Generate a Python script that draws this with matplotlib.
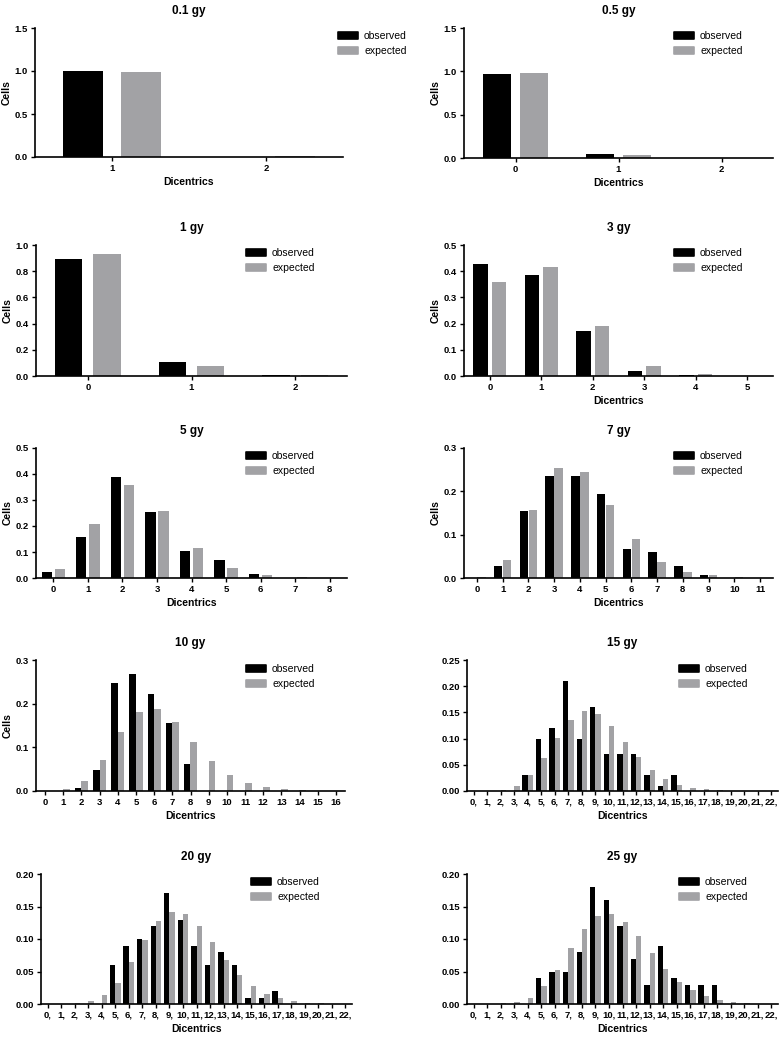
import matplotlib
matplotlib.use("Agg")
import matplotlib.pyplot as plt
import numpy as np

plt.rcParams['font.family'] = ['Liberation Sans', 'DejaVu Sans']

# Dicentric distributions: observed vs expected fraction of cells
titles = ['0.1 gy', '0.5 gy', '1 gy', '3 gy', '5 gy', '7 gy', '10 gy', '15 gy', '20 gy', '25 gy']

cats_01 = ['1', '2']
obs_01 = [1.0, 0.005]
exp_01 = [0.99, 0.01]

cats_05 = ['0', '1', '2']
obs_05 = [0.97, 0.046, 0.0]
exp_05 = [0.978, 0.035, 0.001]

cats_1 = ['0', '1', '2']
obs_1 = [0.89, 0.11, 0.01]
exp_1 = [0.929, 0.074, 0.005]

cats_3 = ['0', '1', '2', '3', '4', '5']
obs_3 = [0.429, 0.385, 0.172, 0.02, 0.004, 0.0]
exp_3 = [0.357, 0.416, 0.191, 0.04, 0.008, 0.001]

cats_5 = [str(i) for i in range(9)]
obs_5 = [0.022, 0.156, 0.389, 0.255, 0.102, 0.069, 0.015, 0.0, 0.0]
exp_5 = [0.034, 0.207, 0.356, 0.258, 0.115, 0.037, 0.011, 0.003, 0.0005]

cats_7 = [str(i) for i in range(12)]
obs_7 = [0.0, 0.028, 0.155, 0.235, 0.235, 0.195, 0.068, 0.061, 0.028, 0.008, 0.0, 0.0]
exp_7 = [0.003, 0.041, 0.157, 0.253, 0.245, 0.168, 0.09, 0.038, 0.015, 0.006, 0.0015, 0.0008]

cats_10 = [str(i) for i in range(17)]
obs_10 = [0.0, 0.0, 0.008, 0.048, 0.248, 0.268, 0.221, 0.155, 0.061,
          0.0, 0.0, 0.0, 0.0, 0.0, 0.0, 0.0, 0.0]
exp_10 = [0.0002, 0.004, 0.023, 0.072, 0.136, 0.182, 0.188, 0.158, 0.112,
          0.068, 0.037, 0.018, 0.009, 0.004, 0.002, 0.001, 0.0003]

cats_high = [str(i) + ',' for i in range(23)]
obs_15 = [0.0, 0.0, 0.0, 0.0, 0.031, 0.10, 0.12, 0.21, 0.10, 0.16, 0.07, 0.07,
          0.07, 0.03, 0.01, 0.03, 0.0, 0.0, 0.0, 0.0, 0.0, 0.0, 0.0]
exp_15 = [0.0, 0.0005, 0.002, 0.01, 0.03, 0.063, 0.102, 0.136, 0.153, 0.147, 0.124, 0.094,
          0.064, 0.04, 0.023, 0.012, 0.006, 0.003, 0.0015, 0.0007, 0.0003, 0.0001, 0.0]

obs_20 = [0.0, 0.0, 0.0, 0.0, 0.0, 0.06, 0.09, 0.10, 0.12, 0.171, 0.13, 0.09,
          0.06, 0.08, 0.06, 0.01, 0.01, 0.02, 0.0, 0.0, 0.0, 0.0, 0.0]
exp_20 = [0.0, 0.0002, 0.001, 0.004, 0.014, 0.033, 0.064, 0.098, 0.127, 0.142, 0.138, 0.12,
          0.095, 0.068, 0.045, 0.028, 0.016, 0.009, 0.0045, 0.002, 0.001, 0.0004, 0.0002]

obs_25 = [0.0, 0.0, 0.0, 0.0, 0.0, 0.04, 0.05, 0.05, 0.08, 0.18, 0.16, 0.12,
          0.07, 0.03, 0.09, 0.04, 0.03, 0.03, 0.03, 0.0, 0.0, 0.0, 0.0]
exp_25 = [0.0, 0.0003, 0.001, 0.003, 0.01, 0.027, 0.053, 0.086, 0.115, 0.135, 0.138, 0.126,
          0.104, 0.078, 0.054, 0.034, 0.021, 0.012, 0.0065, 0.003, 0.0015, 0.0006, 0.0002]

cats = [cats_01, cats_05, cats_1, cats_3, cats_5, cats_7, cats_10, cats_high, cats_high, cats_high]
observed = [obs_01, obs_05, obs_1, obs_3, obs_5, obs_7, obs_10, obs_15, obs_20, obs_25]
expected = [exp_01, exp_05, exp_1, exp_3, exp_5, exp_7, exp_10, exp_15, exp_20, exp_25]
ymax = [1.5, 1.5, 1.0, 0.5, 0.5, 0.3, 0.3, 0.25, 0.20, 0.20]
ystep = [0.5, 0.5, 0.2, 0.1, 0.1, 0.1, 0.1, 0.05, 0.05, 0.05]
ydec = [1, 1, 1, 1, 1, 1, 1, 2, 2, 2]
show_ylabel = [True] * 7 + [False] * 3
show_xlabel = [True, True, False] + [True] * 7

# layout in pixels: axes (left, top, right, bottom), legend anchor, bar width, offset
W, H = 783, 1037
boxes = [(35, 28, 343, 157), (464, 28, 773, 158),
         (36, 245, 347, 376), (464, 245, 773, 376),
         (36, 448, 347, 578), (464, 448, 773, 578),
         (36, 660, 345, 791), (467, 660, 778, 791),
         (41, 874, 352, 1004), (467, 874, 778, 1004)]
leg_pos = [(338, 31), (674, 31), (246, 248), (674, 248), (246, 451),
           (674, 451), (246, 664), (679, 664), (251, 877), (679, 877)]
bar_w = [0.26, 0.265, 0.265, 0.285, 0.30, 0.33, 0.37, 0.40, 0.40, 0.40]
bar_off = [0.19, 0.18, 0.185, 0.18, 0.19, 0.17, 0.18, 0.20, 0.20, 0.20]

BLACK = '#000000'
GREY = '#a2a2a5'

fig = plt.figure(figsize=(W / 100, H / 100), dpi=100)

for i in range(10):
    l, t, r, b = boxes[i]
    ax = fig.add_axes([l / W, 1 - b / H, (r - l) / W, (b - t) / H])
    x = np.arange(len(cats[i]))
    ax.bar(x - bar_off[i], observed[i], width=bar_w[i], color=BLACK, label='observed')
    ax.bar(x + bar_off[i], expected[i], width=bar_w[i], color=GREY, label='expected')

    ax.set_xlim(-0.5, len(cats[i]) - 0.5)
    ax.set_ylim(0, ymax[i])
    yt = np.arange(0, ymax[i] + ystep[i] / 2, ystep[i])
    ax.set_yticks(yt)
    ax.set_yticklabels([f'{v:.{ydec[i]}f}' for v in yt])
    ax.set_xticks(x)
    ax.set_xticklabels(cats[i])

    for s in ['top', 'right']:
        ax.spines[s].set_visible(False)
    for s in ['left', 'bottom']:
        ax.spines[s].set_linewidth(1.2)
    ax.tick_params(axis='both', width=1.0, length=3, pad=2, labelsize=6.8)
    for lab in ax.get_xticklabels() + ax.get_yticklabels():
        lab.set_fontweight('bold')

    ax.set_title(titles[i], fontsize=8.5, fontweight='bold', pad=10)
    if show_xlabel[i]:
        ax.set_xlabel('Dicentrics', fontsize=7.5, fontweight='bold')
        ax.xaxis.set_label_coords(0.5, -25 / (b - t), transform=ax.transAxes)
        ax.xaxis.label.set_va('center')
    if show_ylabel[i]:
        ax.set_ylabel('Cells', fontsize=7.5, fontweight='bold')
        ax.yaxis.set_label_coords(-28 / (r - l), 0.5, transform=ax.transAxes)
        ax.yaxis.label.set_va('center')

    lx, ly = leg_pos[i]
    leg = ax.legend(loc='upper left', bbox_to_anchor=(lx / W, 1 - ly / H),
                    bbox_transform=fig.transFigure, frameon=False, borderaxespad=0,
                    borderpad=0, fontsize=7.5, handlelength=1.95, handleheight=0.65,
                    handletextpad=0.55, labelspacing=0.45)
    # soften the legend swatches a little, like the rounded keys in the original
    for h, c in zip(leg.legend_handles, [BLACK, GREY]):
        h.set_edgecolor(c)
        h.set_linewidth(1.2)
        h.set_joinstyle('round')

fig.savefig('out.png', dpi=100)
